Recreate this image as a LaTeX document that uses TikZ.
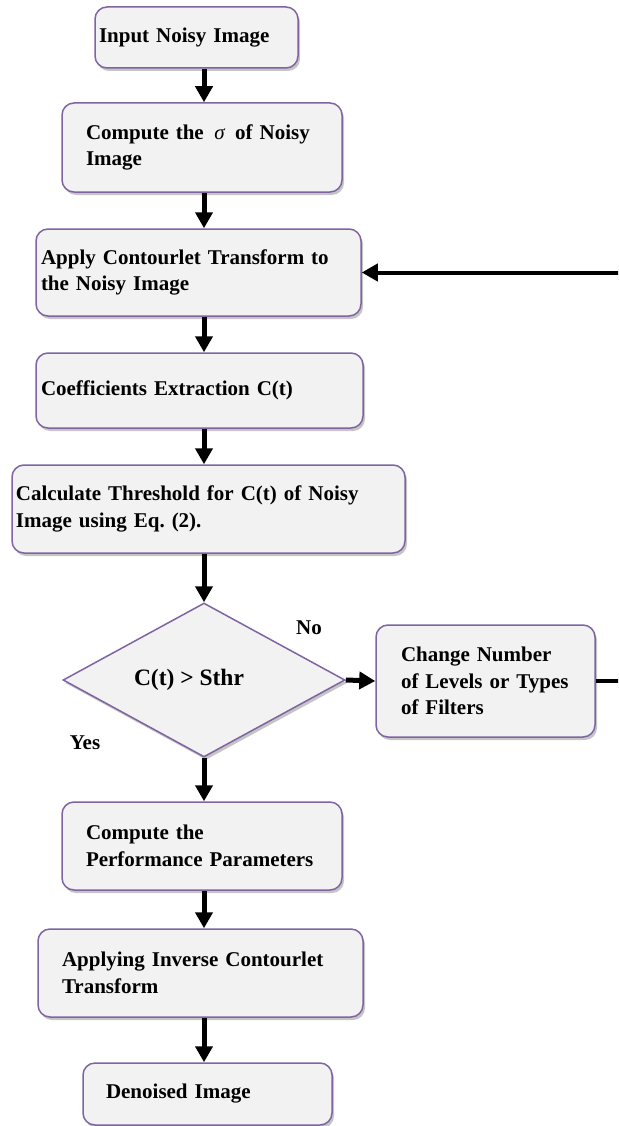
\documentclass[tikz,border=0pt]{standalone}
\usepackage{fontspec}
\setmainfont{Liberation Serif}
\frenchspacing
\usetikzlibrary{shapes.geometric, arrows.meta, shadows}
\definecolor{boxline}{HTML}{8064A2}
\definecolor{boxfill}{HTML}{F2F2F2}
\tikzset{
  process/.style={rectangle, rounded corners=12pt, draw=boxline, fill=boxfill, line width=1.5pt,
    align=left, inner ysep=0, font=\fontsize{21}{26.5}\selectfont\bfseries,
    drop shadow={shadow xshift=2pt, shadow yshift=-3pt, fill=black!45}},
  decision/.style={diamond, draw=boxline, fill=boxfill, line width=1.5pt, aspect=1.83,
    minimum width=282pt, minimum height=154pt, inner sep=0, text centered,
    font=\fontsize{23.5}{28}\selectfont\bfseries,
    drop shadow={shadow xshift=2pt, shadow yshift=-3pt, fill=black!45}},
  note/.style={inner sep=0, font=\fontsize{21}{26.5}\selectfont\bfseries},
  flow/.style={-{Triangle[width=17pt,length=16pt]}, line width=5pt, black}
}

\begin{document}
\begin{tikzpicture}[x=1pt, y=-1pt]
      \useasboundingbox (0, 0) rectangle (618, 1126);
      \clip (0, 0) rectangle (618, 1126);
      \coordinate (spine) at (204, 0);

      \node[process, minimum height=61pt, inner xsep=4pt, text width=195pt](in) at (196.5, 37.5){Input Noisy Image};
      \node[process, minimum height=89pt, inner xsep=24pt, text width=232pt](sigma) at (202, 147.5){Compute the \,{\mdseries\itshape σ}\, of Noisy\\Image};
      \node[process, minimum height=87pt, inner xsep=5pt, text width=315pt](ct) at (198.5, 272.5){Apply Contourlet Transform to\\the Noisy Image};
      \node[process, minimum height=75pt, inner xsep=5pt, text width=317pt](coef) at (199.5, 390.5){Coefficients Extraction C(t)};
      \node[process, minimum height=88pt, inner xsep=4pt, text width=385pt](thr) at (208.5, 509){Calculate Threshold for C(t) of Noisy\\Image using Eq. (2).};

      \node[decision](test) at (204, 680){C(t) > Sthr\kern30pt};
      \node[note](no) at (309, 628){No};
      \node[note](yes) at (85, 743){Yes};
      \node[process, minimum height=112pt, inner xsep=25pt, text width=169pt](chg) at (485.5, 681){Change Number\\of Levels or Types\\of Filters};

      \node[process, minimum height=88pt, inner xsep=24pt, text width=232pt](perf) at (202, 846){Compute the\\Performance Parameters};
      \node[process, minimum height=88pt, inner xsep=24pt, text width=277pt](inv) at (200.5, 973){Applying Inverse Contourlet\\Transform\\[4pt]};
      \node[process, minimum height=62pt, inner xsep=23pt, text width=203pt](out) at (207.5, 1094){Denoised Image};

      \draw[flow](in.south -| spine)--(sigma.north -| spine);
      \draw[flow](sigma.south -| spine)--(ct.north -| spine);
      \draw[flow](ct.south -| spine)--(coef.north -| spine);
      \draw[flow](coef.south -| spine)--(thr.north -| spine);
      \draw[flow](thr.south -| spine)--(test.north);
      \draw[flow](test.east)--(chg.west);
      \draw[flow](test.south)--(perf.north -| spine);
      \draw[flow](perf.south -| spine)--(inv.north -| spine);
      \draw[flow](inv.south -| spine)--(out.north -| spine);

      % loop back past the right edge
      \coordinate (back1) at (640, 681);
      \coordinate (back2) at (640, 272.5);
      \draw[flow, line width=4pt](chg.east)--(back1)--(back2)--(ct.east);
    \end{tikzpicture}
\end{document}
